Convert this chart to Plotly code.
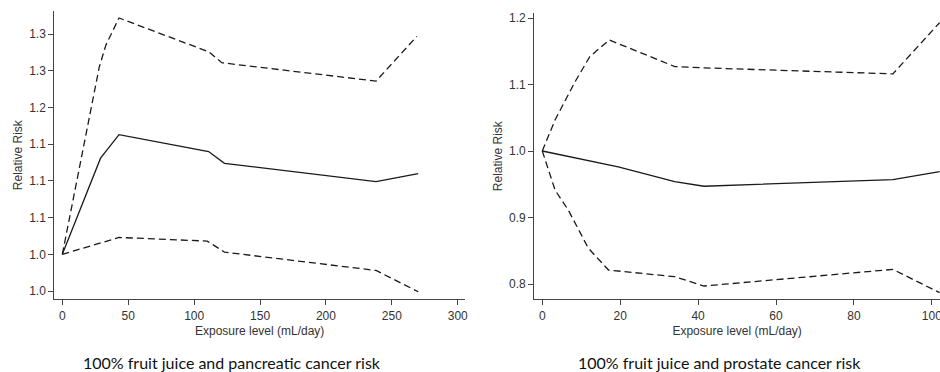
import plotly.graph_objects as go

# Left panel: pancreatic cancer
pan_x = [0, 29, 43, 111, 123, 238, 270]
pan_rr = [1.0, 1.131, 1.163, 1.140, 1.124, 1.099, 1.110]
pan_up_x = [0, 28, 33, 43, 111, 121, 238, 269]
pan_up = [1.0, 1.255, 1.285, 1.322, 1.276, 1.261, 1.236, 1.297]
pan_lo_x = [0, 43, 110, 123, 238, 270]
pan_lo = [1.0, 1.023, 1.018, 1.003, 0.978, 0.949]
pan_yticks = [0.95, 1.00, 1.05, 1.10, 1.15, 1.20, 1.25, 1.30]
pan_yticktext = ["1.0", "1.0", "1.1", "1.1", "1.1", "1.2", "1.3", "1.3"]
pan_xticks = [0, 50, 100, 150, 200, 250, 300]

# Right panel: prostate cancer
pro_x = [0, 12, 19.5, 34, 41.5, 90, 102]
pro_rr = [1.0, 0.985, 0.976, 0.954, 0.947, 0.957, 0.969]
pro_up_x = [0, 3.3, 8.4, 12.2, 17.2, 34, 41.5, 90, 102]
pro_up = [1.0, 1.047, 1.104, 1.142, 1.167, 1.127, 1.125, 1.116, 1.193]
pro_lo_x = [0, 3.3, 6.7, 11.8, 17, 34, 41.5, 90, 102]
pro_lo = [1.0, 0.941, 0.911, 0.854, 0.821, 0.811, 0.797, 0.822, 0.787]
pro_yticks = [0.8, 0.9, 1.0, 1.1, 1.2]
pro_yticktext = ["0.8", "0.9", "1.0", "1.1", "1.2"]
pro_xticks = [0, 20, 40, 60, 80, 100]

captions = ["100% fruit juice and pancreatic cancer risk",
            "100% fruit juice and prostate cancer risk"]

LINE = "#1a1a1a"
AX = "#444444"
TICKFONT = dict(family="Liberation Sans, Arial, sans-serif", size=12, color="#333333")

fig = go.Figure()

def add_panel(xs, ys, xu, yu, xl, yl, xa, ya):
    fig.add_trace(go.Scatter(x=xu, y=yu, mode="lines", xaxis=xa, yaxis=ya,
                             line=dict(color=LINE, width=1.3, dash="7px,4px"), showlegend=False))
    fig.add_trace(go.Scatter(x=xl, y=yl, mode="lines", xaxis=xa, yaxis=ya,
                             line=dict(color=LINE, width=1.3, dash="7px,4px"), showlegend=False))
    fig.add_trace(go.Scatter(x=xs, y=ys, mode="lines", xaxis=xa, yaxis=ya,
                             line=dict(color=LINE, width=1.3), showlegend=False))

add_panel(pan_x, pan_rr, pan_up_x, pan_up, pan_lo_x, pan_lo, "x", "y")
add_panel(pro_x, pro_rr, pro_up_x, pro_up, pro_lo_x, pro_lo, "x2", "y2")

axis_common = dict(showgrid=False, zeroline=False, showline=True, linecolor=AX, linewidth=1.2,
                   ticks="outside", ticklen=5, tickcolor=AX, tickwidth=1.2, tickfont=TICKFONT,
                   automargin=False, ticklabeloverflow="allow")
title_font = dict(family="Liberation Sans, Arial, sans-serif", size=12, color="#333333")

fig.update_layout(
    width=940, height=372,
    margin=dict(l=0, r=0, t=0, b=0, autoexpand=False),
    paper_bgcolor="white", plot_bgcolor="white",
    xaxis=dict(domain=[0.0578, 0.4947], range=[-6.07, 305.5], tickvals=pan_xticks,
               title=dict(text="Exposure level (mL/day)", font=title_font, standoff=4),
               anchor="y", **axis_common),
    yaxis=dict(domain=[0.1954, 0.9704], range=[0.9387, 1.3315], tickvals=pan_yticks,
               ticktext=pan_yticktext,
               title=dict(text="Relative Risk", font=title_font, standoff=3),
               anchor="x", **axis_common),
    xaxis2=dict(domain=[0.5684, 1.0], range=[-2.05, 102.1], tickvals=pro_xticks,
                title=dict(text="Exposure level (mL/day)", font=title_font, standoff=4),
                anchor="y2", **axis_common),
    yaxis2=dict(domain=[0.1954, 0.965], range=[0.777, 1.2075], tickvals=pro_yticks,
                ticktext=pro_yticktext,
                title=dict(text="Relative Risk", font=title_font, standoff=3),
                anchor="x2", **axis_common),
)

cap_font = dict(family="Lato, Open Sans, sans-serif", size=16, color="#111111")
for xc, txt in zip([231.7 / 940, 719 / 940], captions):
    fig.add_annotation(x=xc, y=(372 - 362) / 372, xref="paper", yref="paper",
                       text=txt, showarrow=False, font=cap_font,
                       xanchor="center", yanchor="middle")

fig.write_html("out.html", config={"displayModeBar": False},
               post_script="document.body.style.margin='0';document.body.style.overflow='hidden';")
